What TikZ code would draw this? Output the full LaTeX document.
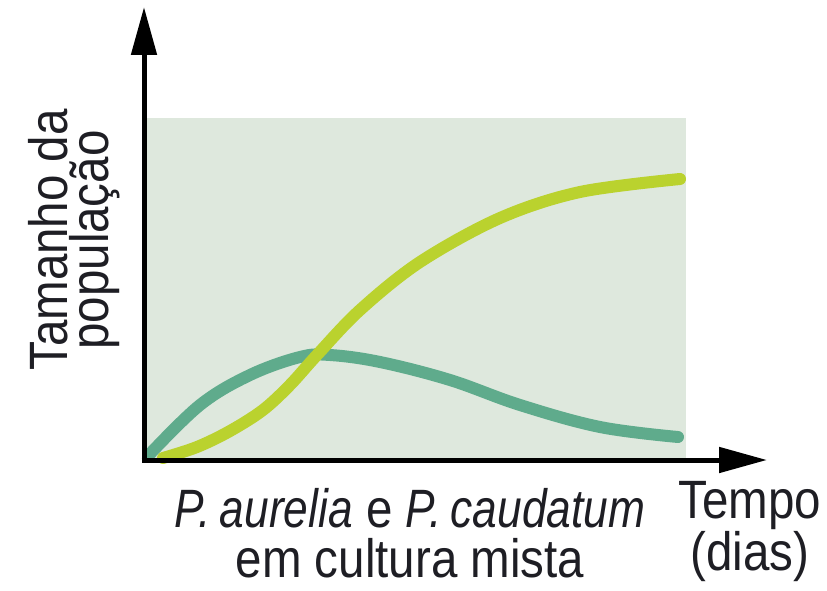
\documentclass[tikz,border=0pt]{standalone}
\usepackage{fontspec}
\setmainfont{Liberation Sans}[FakeStretch=0.88, ItalicFeatures={FakeStretch=0.82}]
\usetikzlibrary{arrows.meta}
\definecolor{bgpanel}{HTML}{DEE8DD}
\definecolor{tealcurve}{HTML}{5FAB8C}
\definecolor{limecurve}{HTML}{BAD22E}
\definecolor{txt}{HTML}{1E1E24}
\tikzset{
  axis/.style={line width=5pt, -{Triangle[length=48pt,width=25pt]}},
  curve/.style={line width=12pt, line cap=round},
  lbl/.style={inner sep=0pt, text=txt, align=center},
}
\begin{document}
\begin{tikzpicture}[x=1pt,y=-1pt]
\useasboundingbox (0,0) rectangle (827,591);
\fill[bgpanel] (144,118) rectangle (686,460);
\draw[curve, tealcurve] plot[smooth, tension=0.6] coordinates {(148,456) (200,405) (250,375) (300,357) (330,355) (380,362) (450,380) (520,405) (600,427) (678,437)};
\draw[curve, limecurve] plot[smooth, tension=0.55] coordinates {(163,458) (197,447) (230,431) (263,410) (290,385) (317,355) (360,310) (420,262) (500,218) (580,192) (680,179)};
\coordinate (ytip) at (144,7);
\coordinate (xtip) at (767,460);
\coordinate (ostart) at (144,462.5);
\coordinate (ostartx) at (141.5,460);
\draw[axis] (ostart) -- (ytip);
\draw[axis] (ostartx) -- (xtip);
\node[lbl, anchor=base, rotate=90, font=\fontsize{54}{41}\selectfont] (ylab) at (108,240) {Tamanho da\\população};
\node[lbl, anchor=base, font=\fontsize{54}{50}\selectfont] (xlab) at (410,577) {\textit{P.\,aurelia} e \textit{P.\,caudatum}\\em cultura mista};
\node[lbl, anchor=base, font=\fontsize{54}{48}\selectfont] (tlab) at (750,570) {Tempo\\(dias)};
\end{tikzpicture}
\end{document}
